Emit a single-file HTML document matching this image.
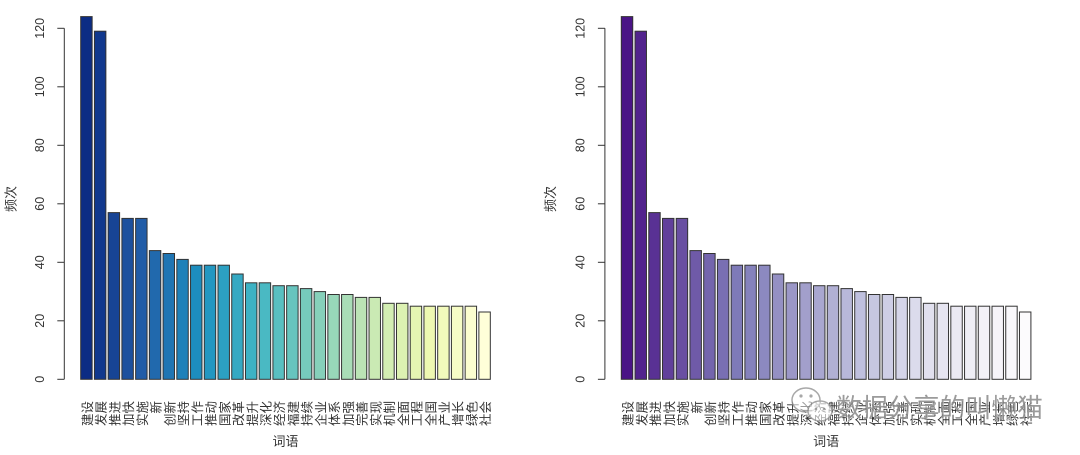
<!DOCTYPE html>
<html><head><meta charset="utf-8"><style>
html,body{margin:0;padding:0;background:#fff;}
svg{display:block;}
text{font-family:"Liberation Sans","Noto Sans CJK SC",sans-serif;fill:#333;}
.yt{font-size:12.5px;}
.xl{font-size:12.5px;}
.tt{font-size:13px;}
</style></head><body>
<svg width="1080" height="455" viewBox="0 0 1080 455" xmlns="http://www.w3.org/2000/svg">
<defs>
<g id="axis">
  <line x1="64.3" y1="28.3" x2="64.3" y2="379.3" stroke="#333" stroke-width="1"/>
  <line x1="57.3" y1="379.3" x2="64.3" y2="379.3" stroke="#333"/>
  <line x1="57.3" y1="320.8" x2="64.3" y2="320.8" stroke="#333"/>
  <line x1="57.3" y1="262.3" x2="64.3" y2="262.3" stroke="#333"/>
  <line x1="57.3" y1="203.8" x2="64.3" y2="203.8" stroke="#333"/>
  <line x1="57.3" y1="145.3" x2="64.3" y2="145.3" stroke="#333"/>
  <line x1="57.3" y1="86.8" x2="64.3" y2="86.8" stroke="#333"/>
  <line x1="57.3" y1="28.3" x2="64.3" y2="28.3" stroke="#333"/>
</g>
</defs>

<!-- ================= LEFT CHART ================= -->
<g>
<use href="#axis"/>
<g class="yt" text-anchor="middle">
  <text transform="translate(44,379.3) rotate(-90)">0</text>
  <text transform="translate(44,320.8) rotate(-90)">20</text>
  <text transform="translate(44,262.3) rotate(-90)">40</text>
  <text transform="translate(44,203.8) rotate(-90)">60</text>
  <text transform="translate(44,145.3) rotate(-90)">80</text>
  <text transform="translate(44,86.8) rotate(-90)">100</text>
  <text transform="translate(44,28.3) rotate(-90)">120</text>
</g>
<text class="tt" text-anchor="middle" dominant-baseline="central" transform="translate(11,199) rotate(-90)">频次</text>
<text class="tt" text-anchor="middle" dominant-baseline="central" x="285.5" y="441.7">词语</text>

<g stroke="#333" stroke-width="1">
<rect x="80.70" y="16.6" width="11.44" height="362.7" fill="rgb(12,44,132)"/>
<rect x="94.43" y="31.2" width="11.44" height="348.1" fill="rgb(17,56,141)"/>
<rect x="108.16" y="212.6" width="11.44" height="166.7" fill="rgb(23,68,149)"/>
<rect x="121.89" y="218.4" width="11.44" height="160.9" fill="rgb(28,80,158)"/>
<rect x="135.62" y="218.4" width="11.44" height="160.9" fill="rgb(33,92,167)"/>
<rect x="149.35" y="250.6" width="11.44" height="128.7" fill="rgb(33,105,173)"/>
<rect x="163.08" y="253.5" width="11.44" height="125.8" fill="rgb(32,117,179)"/>
<rect x="176.81" y="259.4" width="11.44" height="119.9" fill="rgb(31,129,185)"/>
<rect x="190.54" y="265.2" width="11.44" height="114.1" fill="rgb(29,141,190)"/>
<rect x="204.27" y="265.2" width="11.44" height="114.1" fill="rgb(35,151,193)"/>
<rect x="218.00" y="265.2" width="11.44" height="114.1" fill="rgb(44,160,194)"/>
<rect x="231.73" y="274.0" width="11.44" height="105.3" fill="rgb(53,169,195)"/>
<rect x="245.46" y="282.8" width="11.44" height="96.5" fill="rgb(61,178,196)"/>
<rect x="259.19" y="282.8" width="11.44" height="96.5" fill="rgb(74,185,195)"/>
<rect x="272.92" y="285.7" width="11.44" height="93.6" fill="rgb(89,191,193)"/>
<rect x="286.65" y="285.7" width="11.44" height="93.6" fill="rgb(103,196,190)"/>
<rect x="300.38" y="288.6" width="11.44" height="90.7" fill="rgb(118,202,188)"/>
<rect x="314.11" y="291.6" width="11.44" height="87.7" fill="rgb(134,208,186)"/>
<rect x="327.84" y="294.5" width="11.44" height="84.8" fill="rgb(152,215,185)"/>
<rect x="341.57" y="294.5" width="11.44" height="84.8" fill="rgb(169,221,183)"/>
<rect x="355.30" y="297.4" width="11.44" height="81.9" fill="rgb(187,228,181)"/>
<rect x="369.03" y="297.4" width="11.44" height="81.9" fill="rgb(202,234,180)"/>
<rect x="382.76" y="303.3" width="11.44" height="76.0" fill="rgb(211,238,179)"/>
<rect x="396.49" y="303.3" width="11.44" height="76.0" fill="rgb(220,241,178)"/>
<rect x="410.22" y="306.2" width="11.44" height="73.1" fill="rgb(229,245,178)"/>
<rect x="423.95" y="306.2" width="11.44" height="73.1" fill="rgb(238,248,178)"/>
<rect x="437.68" y="306.2" width="11.44" height="73.1" fill="rgb(242,250,188)"/>
<rect x="451.41" y="306.2" width="11.44" height="73.1" fill="rgb(246,252,198)"/>
<rect x="465.14" y="306.2" width="11.44" height="73.1" fill="rgb(251,253,207)"/>
<rect x="478.87" y="312.0" width="11.44" height="67.3" fill="rgb(255,255,217)"/>
</g>

<g class="xl" text-anchor="end" dominant-baseline="central">
<text transform="translate(88.0,401) rotate(-90)">建设</text>
<text transform="translate(101.7,401) rotate(-90)">发展</text>
<text transform="translate(115.5,401) rotate(-90)">推进</text>
<text transform="translate(129.2,401) rotate(-90)">加快</text>
<text transform="translate(142.9,401) rotate(-90)">实施</text>
<text transform="translate(156.7,401) rotate(-90)">新</text>
<text transform="translate(170.4,401) rotate(-90)">创新</text>
<text transform="translate(184.1,401) rotate(-90)">坚持</text>
<text transform="translate(197.9,401) rotate(-90)">工作</text>
<text transform="translate(211.6,401) rotate(-90)">推动</text>
<text transform="translate(225.3,401) rotate(-90)">国家</text>
<text transform="translate(239.0,401) rotate(-90)">改革</text>
<text transform="translate(252.8,401) rotate(-90)">提升</text>
<text transform="translate(266.5,401) rotate(-90)">深化</text>
<text transform="translate(280.2,401) rotate(-90)">经济</text>
<text transform="translate(294.0,401) rotate(-90)">福建</text>
<text transform="translate(307.7,401) rotate(-90)">持续</text>
<text transform="translate(321.4,401) rotate(-90)">企业</text>
<text transform="translate(335.2,401) rotate(-90)">体系</text>
<text transform="translate(348.9,401) rotate(-90)">加强</text>
<text transform="translate(362.6,401) rotate(-90)">完善</text>
<text transform="translate(376.3,401) rotate(-90)">实现</text>
<text transform="translate(390.1,401) rotate(-90)">机制</text>
<text transform="translate(403.8,401) rotate(-90)">全面</text>
<text transform="translate(417.5,401) rotate(-90)">工程</text>
<text transform="translate(431.3,401) rotate(-90)">全国</text>
<text transform="translate(445.0,401) rotate(-90)">产业</text>
<text transform="translate(458.7,401) rotate(-90)">增长</text>
<text transform="translate(472.5,401) rotate(-90)">绿色</text>
<text transform="translate(486.2,401) rotate(-90)">社会</text>
</g>
</g>

<!-- ================= RIGHT CHART ================= -->
<g transform="translate(540.6,0)">
<use href="#axis"/>
<g class="yt" text-anchor="middle">
  <text transform="translate(44,379.3) rotate(-90)">0</text>
  <text transform="translate(44,320.8) rotate(-90)">20</text>
  <text transform="translate(44,262.3) rotate(-90)">40</text>
  <text transform="translate(44,203.8) rotate(-90)">60</text>
  <text transform="translate(44,145.3) rotate(-90)">80</text>
  <text transform="translate(44,86.8) rotate(-90)">100</text>
  <text transform="translate(44,28.3) rotate(-90)">120</text>
</g>
<text class="tt" text-anchor="middle" dominant-baseline="central" transform="translate(10,199) rotate(-90)">频次</text>
<text class="tt" text-anchor="middle" dominant-baseline="central" x="285.5" y="441.7">词语</text>

<g stroke="#333" stroke-width="1">
<rect x="80.70" y="16.6" width="11.44" height="362.7" fill="rgb(74,20,134)"/>
<rect x="94.43" y="31.2" width="11.44" height="348.1" fill="rgb(82,35,141)"/>
<rect x="108.16" y="212.6" width="11.44" height="166.7" fill="rgb(89,49,148)"/>
<rect x="121.89" y="218.4" width="11.44" height="160.9" fill="rgb(97,64,155)"/>
<rect x="135.62" y="218.4" width="11.44" height="160.9" fill="rgb(105,79,162)"/>
<rect x="149.35" y="250.6" width="11.44" height="128.7" fill="rgb(111,90,168)"/>
<rect x="163.08" y="253.5" width="11.44" height="125.8" fill="rgb(116,101,173)"/>
<rect x="176.81" y="259.4" width="11.44" height="119.9" fill="rgb(121,111,179)"/>
<rect x="190.54" y="265.2" width="11.44" height="114.1" fill="rgb(126,122,184)"/>
<rect x="204.27" y="265.2" width="11.44" height="114.1" fill="rgb(133,130,188)"/>
<rect x="218.00" y="265.2" width="11.44" height="114.1" fill="rgb(140,137,192)"/>
<rect x="231.73" y="274.0" width="11.44" height="105.3" fill="rgb(148,144,195)"/>
<rect x="245.46" y="282.8" width="11.44" height="96.5" fill="rgb(155,151,199)"/>
<rect x="259.19" y="282.8" width="11.44" height="96.5" fill="rgb(162,159,203)"/>
<rect x="272.92" y="285.7" width="11.44" height="93.6" fill="rgb(169,167,208)"/>
<rect x="286.65" y="285.7" width="11.44" height="93.6" fill="rgb(177,176,212)"/>
<rect x="300.38" y="288.6" width="11.44" height="90.7" fill="rgb(184,184,217)"/>
<rect x="314.11" y="291.6" width="11.44" height="87.7" fill="rgb(191,192,222)"/>
<rect x="327.84" y="294.5" width="11.44" height="84.8" fill="rgb(198,199,225)"/>
<rect x="341.57" y="294.5" width="11.44" height="84.8" fill="rgb(206,206,229)"/>
<rect x="355.30" y="297.4" width="11.44" height="81.9" fill="rgb(213,213,232)"/>
<rect x="369.03" y="297.4" width="11.44" height="81.9" fill="rgb(219,219,236)"/>
<rect x="382.76" y="303.3" width="11.44" height="76.0" fill="rgb(225,224,238)"/>
<rect x="396.49" y="303.3" width="11.44" height="76.0" fill="rgb(230,229,241)"/>
<rect x="410.22" y="306.2" width="11.44" height="73.1" fill="rgb(235,233,243)"/>
<rect x="423.95" y="306.2" width="11.44" height="73.1" fill="rgb(239,238,245)"/>
<rect x="437.68" y="306.2" width="11.44" height="73.1" fill="rgb(243,241,247)"/>
<rect x="451.41" y="306.2" width="11.44" height="73.1" fill="rgb(246,244,249)"/>
<rect x="465.14" y="306.2" width="11.44" height="73.1" fill="rgb(249,248,251)"/>
<rect x="478.87" y="312.0" width="11.44" height="67.3" fill="rgb(252,251,253)"/>
</g>

<g class="xl" text-anchor="end" dominant-baseline="central">
<text transform="translate(88.0,401) rotate(-90)">建设</text>
<text transform="translate(101.7,401) rotate(-90)">发展</text>
<text transform="translate(115.5,401) rotate(-90)">推进</text>
<text transform="translate(129.2,401) rotate(-90)">加快</text>
<text transform="translate(142.9,401) rotate(-90)">实施</text>
<text transform="translate(156.7,401) rotate(-90)">新</text>
<text transform="translate(170.4,401) rotate(-90)">创新</text>
<text transform="translate(184.1,401) rotate(-90)">坚持</text>
<text transform="translate(197.9,401) rotate(-90)">工作</text>
<text transform="translate(211.6,401) rotate(-90)">推动</text>
<text transform="translate(225.3,401) rotate(-90)">国家</text>
<text transform="translate(239.0,401) rotate(-90)">改革</text>
<text transform="translate(252.8,401) rotate(-90)">提升</text>
<text transform="translate(266.5,401) rotate(-90)">深化</text>
<text transform="translate(280.2,401) rotate(-90)">经济</text>
<text transform="translate(294.0,401) rotate(-90)">福建</text>
<text transform="translate(307.7,401) rotate(-90)">持续</text>
<text transform="translate(321.4,401) rotate(-90)">企业</text>
<text transform="translate(335.2,401) rotate(-90)">体系</text>
<text transform="translate(348.9,401) rotate(-90)">加强</text>
<text transform="translate(362.6,401) rotate(-90)">完善</text>
<text transform="translate(376.3,401) rotate(-90)">实现</text>
<text transform="translate(390.1,401) rotate(-90)">机制</text>
<text transform="translate(403.8,401) rotate(-90)">全面</text>
<text transform="translate(417.5,401) rotate(-90)">工程</text>
<text transform="translate(431.3,401) rotate(-90)">全国</text>
<text transform="translate(445.0,401) rotate(-90)">产业</text>
<text transform="translate(458.7,401) rotate(-90)">增长</text>
<text transform="translate(472.5,401) rotate(-90)">绿色</text>
<text transform="translate(486.2,401) rotate(-90)">社会</text>
</g>
</g>

<!-- ================= WATERMARK ================= -->
<g opacity="0.85">
  <ellipse cx="806" cy="400" rx="14" ry="12" fill="rgba(255,255,255,0.6)" stroke="#999" stroke-width="1.5"/>
  <ellipse cx="820" cy="411" rx="12" ry="10" fill="rgba(255,255,255,0.7)" stroke="#999" stroke-width="1.5"/>
  <circle cx="801" cy="396" r="1.6" fill="#999"/>
  <circle cx="811" cy="396" r="1.6" fill="#999"/>
  <circle cx="816" cy="409" r="1.3" fill="#999"/>
  <circle cx="824" cy="409" r="1.3" fill="#999"/>
  <text x="836" y="417" textLength="207" lengthAdjust="spacingAndGlyphs" style="font-size:26px;fill:#8a8a8a;stroke:#fff;stroke-width:0.6;paint-order:stroke;">数据分享的叫懒猫</text>
</g>
</svg>
</body></html>
